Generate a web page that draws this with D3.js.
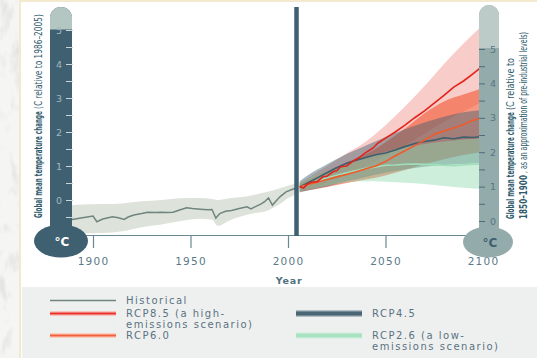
<!DOCTYPE html>
<html>
<head>
<meta charset="utf-8">
<script src="https://cdn.jsdelivr.net/npm/d3@7"></script>
<style>
  html, body { margin: 0; padding: 0; background: #efefec; }
  svg { display: block; }
  text { font-family: "DejaVu Sans", Verdana, sans-serif; }
</style>
</head>
<body>
<svg id="chart" width="537" height="358"></svg>
<script>
// ---- Data (temperature change, °C relative to 1986–2005) ----
const histYears = [1888, 1893, 1897, 1900, 1902, 1905, 1910, 1913, 1916, 1918, 1921, 1925, 1928, 1932, 1935, 1938, 1941, 1944, 1948, 1951, 1955, 1959, 1961, 1963, 1965, 1968, 1971, 1975, 1979, 1981, 1983, 1986, 1988, 1990, 1992, 1994, 1996, 1999, 2002, 2005];
const histTemp  = [-0.59, -0.54, -0.50, -0.47, -0.64, -0.56, -0.49, -0.52, -0.57, -0.50, -0.44, -0.40, -0.36, -0.37, -0.36, -0.37, -0.36, -0.30, -0.23, -0.25, -0.27, -0.29, -0.28, -0.53, -0.40, -0.33, -0.31, -0.25, -0.20, -0.26, -0.20, -0.12, -0.05, 0.06, -0.15, -0.02, 0.10, 0.24, 0.31, 0.36];

const histBandYears = [1888, 1895, 1905, 1915, 1925, 1935, 1945, 1955, 1961, 1964, 1970, 1980, 1990, 1995, 2000, 2005];
const histBandLow   = [-0.98, -0.98, -0.97, -0.92, -0.80, -0.72, -0.62, -0.55, -0.58, -0.76, -0.60, -0.42, -0.30, -0.15, 0.05, 0.20];
const histBandHigh  = [-0.15, -0.13, -0.12, -0.10, -0.04, 0.00, 0.05, 0.06, 0.03, 0.00, 0.05, 0.12, 0.25, 0.33, 0.42, 0.50];

const rcp85Years = [2006, 2008, 2010, 2012, 2015, 2018, 2020, 2023, 2025, 2027, 2030, 2033, 2035, 2037, 2040, 2042, 2044, 2046, 2050, 2055, 2060, 2065, 2070, 2075, 2080, 2085, 2090, 2095, 2100];
const rcp85Mean  = [0.39, 0.35, 0.47, 0.52, 0.54, 0.69, 0.70, 0.83, 0.86, 0.98, 1.00, 1.13, 1.20, 1.27, 1.40, 1.47, 1.55, 1.67, 1.82, 2.00, 2.20, 2.42, 2.62, 2.85, 3.08, 3.32, 3.50, 3.72, 3.95];

const projYears = [2006, 2010, 2015, 2020, 2025, 2030, 2035, 2040, 2045, 2050, 2055, 2060, 2065, 2070, 2075, 2080, 2085, 2090, 2095, 2100];
const rcp60Mean = [0.39, 0.45, 0.52, 0.60, 0.68, 0.75, 0.83, 0.92, 1.00, 1.13, 1.30, 1.45, 1.60, 1.76, 1.93, 2.03, 2.12, 2.22, 2.35, 2.42];
const rcp45Mean = [0.38, 0.50, 0.65, 0.80, 0.95, 1.08, 1.17, 1.25, 1.33, 1.38, 1.47, 1.57, 1.66, 1.72, 1.76, 1.83, 1.80, 1.85, 1.84, 1.87];
const rcp26Mean = [0.37, 0.45, 0.55, 0.65, 0.73, 0.80, 0.87, 0.93, 0.97, 1.02, 1.03, 1.05, 1.06, 1.05, 1.04, 1.02, 1.01, 1.03, 1.05, 1.06];

const bandYears = [2006, 2010, 2020, 2030, 2040, 2050, 2060, 2070, 2080, 2090, 2100];
const rcp85Low  = [0.25, 0.30, 0.50, 0.75, 1.00, 1.30, 1.60, 1.95, 2.30, 2.60, 2.90];
const rcp85High = [0.50, 0.65, 1.00, 1.37, 1.72, 2.20, 2.75, 3.35, 4.00, 4.60, 5.15];
const rcp60Low  = [0.25, 0.28, 0.38, 0.50, 0.60, 0.72, 0.88, 1.05, 1.20, 1.32, 1.42];
const rcp60High = [0.48, 0.60, 0.85, 1.10, 1.35, 1.70, 2.10, 2.55, 2.90, 3.10, 3.30];
const rcp45Low  = [0.22, 0.28, 0.40, 0.55, 0.68, 0.80, 0.90, 0.98, 1.03, 1.06, 1.08];
const rcp45High = [0.55, 0.72, 1.05, 1.35, 1.60, 1.85, 2.08, 2.28, 2.45, 2.58, 2.65];
const rcp26Low  = [0.25, 0.30, 0.42, 0.52, 0.55, 0.54, 0.51, 0.47, 0.41, 0.36, 0.32];
const rcp26High = [0.50, 0.62, 0.85, 1.05, 1.25, 1.42, 1.55, 1.65, 1.72, 1.78, 1.81];

const xTickYears = [1900, 1950, 2000, 2050, 2100];
const leftTicks  = [-0.5, 0, 0.5, 1, 1.5, 2, 2.5, 3, 3.5, 4, 4.5, 5];
const rightTicks = [0, 0.5, 1, 1.5, 2, 2.5, 3, 3.5, 4, 4.5, 5];
const projectionStart = 2005;

const legendItems = [
  { lines: ["Historical"], col: 0, row: 0, key: "hist" },
  { lines: ["RCP8.5 (a high-", "emissions scenario)"], col: 0, row: 1, key: "rcp85" },
  { lines: ["RCP6.0"], col: 0, row: 2, key: "rcp60" },
  { lines: ["RCP4.5"], col: 1, row: 1, key: "rcp45" },
  { lines: ["RCP2.6 (a low-", "emissions scenario)"], col: 1, row: 2, key: "rcp26" }
];

// ---- Styles ----
const C = {
  slate: "#3e6070",
  slateText: "#2f5a6c",
  hist: "#6f857e",
  histBand: "#dde3db",
  rcp85: "#e2231a",
  rcp60: "#f15a2b",
  rcp45: "#3d5f6e",
  rcp26: "#9fdfba"
};

const svg = d3.select("#chart");

// textured page background
const defs = svg.append("defs");
const tex = defs.append("filter").attr("id", "marble").attr("x", 0).attr("y", 0).attr("width", 1).attr("height", 1);
tex.append("feTurbulence").attr("type", "fractalNoise").attr("baseFrequency", "0.09 0.04").attr("numOctaves", 3).attr("seed", 4);
tex.append("feColorMatrix").attr("type", "matrix")
  .attr("values", "0 0 0 0 0.6  0 0 0 0 0.6  0 0 0 0 0.6  0 0 0 -3 1.45");
svg.append("rect").attr("width", 537).attr("height", 358).attr("fill", "#f5f5f3");
svg.append("rect").attr("width", 537).attr("height", 358).attr("filter", "url(#marble)").attr("opacity", 0.45);

// main panel
svg.append("rect").attr("x", 20).attr("y", 1).attr("width", 520).attr("height", 360)
  .attr("fill", "#ffffff").attr("stroke", "#f3e9cf").attr("stroke-width", 2);
// legend panel
svg.append("rect").attr("x", 22).attr("y", 287).attr("width", 515).attr("height", 71).attr("fill", "#eef0f0");

const x = d3.scaleLinear().domain([1900, 2100]).range([93, 483]);
const y = d3.scaleLinear().domain([0, 5]).range([200, 30]);
const yRight = d3.scaleLinear().domain([0, 5]).range([221, 49]);

defs.append("clipPath").attr("id", "plotClip").append("rect")
  .attr("x", 60).attr("y", 0).attr("width", 422).attr("height", 235);

const plot = svg.append("g").attr("clip-path", "url(#plotClip)");

const zip = (xs, a, b) => xs.map((yr, i) => ({ yr, lo: a[i], hi: b ? b[i] : undefined }));
const area = d3.area().x(d => x(d.yr)).y0(d => y(d.lo)).y1(d => y(d.hi)).curve(d3.curveMonotoneX);
const line = d3.line().x(d => x(d.yr)).y(d => y(d.lo)).curve(d3.curveLinear);

// historical uncertainty band
plot.append("path").datum(zip(histBandYears, histBandLow, histBandHigh))
  .attr("d", area).attr("fill", C.histBand);

// projection bands (layered, translucent)
plot.append("path").datum(zip(bandYears, rcp85Low, rcp85High)).attr("d", area)
  .attr("fill", "#f08f88").attr("fill-opacity", 0.45);
plot.append("path").datum(zip(bandYears, rcp60Low, rcp60High)).attr("d", area)
  .attr("fill", "#f2542e").attr("fill-opacity", 0.6);
plot.append("path").datum(zip(bandYears, rcp45Low, rcp45High)).attr("d", area)
  .attr("fill", "#3d5f6e").attr("fill-opacity", 0.45);
plot.append("path").datum(zip(bandYears, rcp26Low, rcp26High)).attr("d", area)
  .attr("fill", "#8fd9ad").attr("fill-opacity", 0.45);

// historical line
plot.append("path").datum(zip(histYears, histTemp)).attr("d", line)
  .attr("fill", "none").attr("stroke", C.hist).attr("stroke-width", 1.5);

// projection means
[
  [projYears, rcp26Mean, C.rcp26],
  [projYears, rcp45Mean, C.rcp45],
  [projYears, rcp60Mean, C.rcp60],
  [rcp85Years, rcp85Mean, C.rcp85]
].forEach(([yrs, vals, col]) => {
  plot.append("path").datum(zip(yrs, vals)).attr("d", line)
    .attr("fill", "none").attr("stroke", col).attr("stroke-width", 1.6).attr("stroke-linejoin", "round");
});

// x axis
const xAxis = svg.append("g").attr("transform", "translate(0,235)")
  .call(d3.axisBottom(x).tickValues(xTickYears).tickSize(13).tickPadding(10).tickFormat(d3.format("d")));
xAxis.select(".domain").attr("d", `M${73},0.5H${483}`).attr("stroke", "#6a8794").attr("stroke-width", 1.2);
xAxis.selectAll(".tick line").attr("stroke", "#6a8794").attr("stroke-width", 1.2);
xAxis.selectAll(".tick text").attr("fill", "#5a7a88").attr("font-size", 10.5)
  .attr("letter-spacing", 1.2).attr("font-family", "DejaVu Sans, sans-serif");
svg.append("text").attr("x", 289).attr("y", 284).attr("text-anchor", "middle")
  .attr("font-size", 9.5).attr("font-weight", "bold").attr("letter-spacing", 0.8)
  .attr("fill", "#4f6f7d").text("Year");

// projection start marker
svg.append("rect").attr("x", x(projectionStart) - 3.5).attr("y", 7).attr("width", 4.5).attr("height", 229)
  .attr("fill", C.slate);

// ---- left thermometer ----
const lt = svg.append("g");
lt.append("ellipse").attr("cx", 61).attr("cy", 241).attr("rx", 27).attr("ry", 16.5).attr("fill", C.slate);
lt.append("path").attr("d", "M50,240V18a11,11 0 0 1 22,0V240Z").attr("fill", C.slate);
lt.append("path").attr("d", `M50,${y(5) - 0.5}V18a11,11 0 0 1 22,0V${y(5) - 0.5}Z`).attr("fill", "#b4c6c2");
lt.append("text").attr("x", 62).attr("y", 246).attr("text-anchor", "middle").attr("fill", "#ffffff")
  .attr("font-size", 12).attr("font-weight", "bold").text("°C");

const la = lt.append("g").attr("transform", "translate(73,0)")
  .call(d3.axisLeft(y).tickValues(leftTicks).tickSize(7).tickPadding(4)
    .tickFormat(d => Number.isInteger(d) ? d3.format("d")(d) : ""));
la.select(".domain").remove();
la.selectAll(".tick line").attr("stroke", "#c9d5d9").attr("stroke-width", 1);
la.selectAll(".tick text").attr("fill", "#a3b8c2").attr("font-size", 9.5);

// ---- right thermometer ----
const rt = svg.append("g");
rt.append("ellipse").attr("cx", 488).attr("cy", 242).attr("rx", 25).attr("ry", 15.5).attr("fill", "#93abaa");
rt.append("path").attr("d", "M479,240V15a10,10 0 0 1 20,0V240Z").attr("fill", "#93abaa");
rt.append("path").attr("d", `M479,${yRight(5) - 1}V15a10,10 0 0 1 20,0V${yRight(5) - 1}Z`).attr("fill", "#bccbc8");
rt.append("text").attr("x", 490).attr("y", 247).attr("text-anchor", "middle").attr("fill", C.slate)
  .attr("font-size", 12).attr("font-weight", "bold").text("°C");

const ra = rt.append("g").attr("transform", "translate(479,0)")
  .call(d3.axisRight(yRight).tickValues(rightTicks).tickSize(6).tickPadding(5)
    .tickFormat(d => Number.isInteger(d) ? d3.format("d")(d) : ""));
ra.select(".domain").remove();
ra.selectAll(".tick line").attr("stroke", "#4d6d7b").attr("stroke-width", 1);
ra.selectAll(".tick text").attr("fill", "#577684").attr("font-size", 9.5);

// ---- rotated axis titles (condensed by horizontal scaling) ----
function vtitle(x0, y0, parts) {
  const g = svg.append("g").attr("transform", `translate(${x0},${y0}) rotate(-90)`);
  let off = 0;
  parts.forEach(p => {
    const t = g.append("text").attr("x", 0).attr("y", 0)
      .attr("font-family", "'Liberation Sans Narrow', 'DejaVu Sans Condensed', 'Liberation Sans', sans-serif")
      .attr("font-size", 10.5).attr("font-weight", p.bold ? "bold" : "normal")
      .attr("fill", C.slateText)
      .text(p.text);
    const natural = t.node().getComputedTextLength();
    t.attr("transform", `translate(${off},0) scale(${p.len / natural},1)`);
    off += p.len + 2;
  });
}
vtitle(42, 218, [
  { text: "Global mean temperature change", len: 107, bold: true },
  { text: "(C relative to 1986–2005)", len: 95, bold: false }
]);
vtitle(514, 219, [
  { text: "Global mean temperature change", len: 107, bold: true },
  { text: "(C relative to", len: 52, bold: false }
]);
vtitle(527, 219, [
  { text: "1850–1900", len: 44, bold: true },
  { text: ", as an approximation of pre-industrial levels)", len: 141, bold: false }
]);

// ---- legend ----
const legend = svg.append("g");
const colX = [50, 296];
const rowY = [300.5, 313.5, 335.5];
const swatch = {
  hist:  [{ c: C.hist, w: 1.6 }],
  rcp85: [{ c: "#f8c4bf", w: 5 }, { c: "#e8312a", w: 2 }],
  rcp60: [{ c: "#fbcdbd", w: 5 }, { c: "#f0603e", w: 2 }],
  rcp45: [{ c: "#9eafb7", w: 6.5 }, { c: "#4a6574", w: 4 }],
  rcp26: [{ c: "#d6f1e2", w: 6.5 }, { c: "#a9e2c0", w: 4 }]
};
legendItems.forEach(item => {
  const lx = colX[item.col], ly = rowY[item.row];
  swatch[item.key].forEach(s => {
    legend.append("line").attr("x1", lx).attr("x2", lx + 66).attr("y1", ly).attr("y2", ly)
      .attr("stroke", s.c).attr("stroke-width", s.w);
  });
  item.lines.forEach((t, i) => {
    legend.append("text").attr("x", lx + 76).attr("y", ly + 3.6 + i * 11)
      .attr("font-size", 10).attr("letter-spacing", 1.5).attr("fill", "#5b7280").text(t);
  });
});
</script>
</body>
</html>
